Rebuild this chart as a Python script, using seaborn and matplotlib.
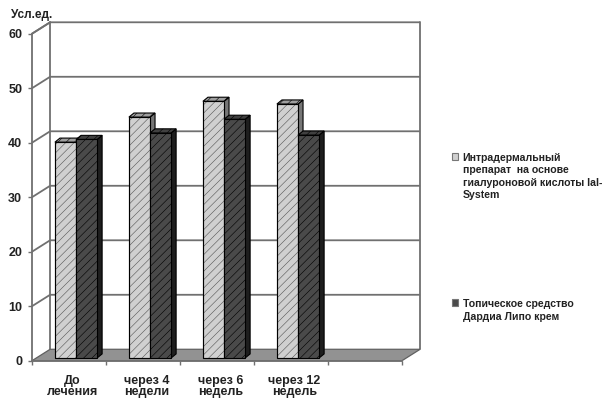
import matplotlib
matplotlib.use("Agg")
import matplotlib.pyplot as plt
from matplotlib.patches import Polygon, Rectangle
import pandas as pd
import seaborn as sns

# ---- data -------------------------------------------------------------
categories = ["До\nлечения", "через 4\nнедели", "через 6\nнедель", "через 12\nнедель"]
series_names = [
    "Интрадермальный\nпрепарат  на основе\nгиалуроновой кислоты Ial-\nSystem",
    "Топическое средство\nДардиа Липо крем",
]
intradermal = [39.6, 44.2, 47.1, 46.6]
topical = [40.1, 41.3, 43.8, 40.9]
y_ticks = [0, 10, 20, 30, 40, 50, 60]
y_label = "Усл.ед."

# ---- style ------------------------------------------------------------
sns.set_style("white")
plt.rcParams["font.family"] = ["Liberation Sans", "DejaVu Sans"]
plt.rcParams["font.weight"] = "bold"
plt.rcParams["hatch.linewidth"] = 0.4
TEXT = "#222222"
FRAME = "#707070"
LIGHT, DARK = "#d0d0d0", "#4a4a4a"
LIGHT_SIDE, DARK_SIDE = "#767676", "#1e1e1e"
LIGHT_TOP, DARK_TOP = "#9e9e9e", "#404040"

df = pd.DataFrame({
    "cat": categories * 2,
    "value": intradermal + topical,
    "series": [series_names[0]] * len(categories) + [series_names[1]] * len(categories),
})

W, H = 609, 398
fig = plt.figure(figsize=(W / 100, H / 100), dpi=100)
ax = fig.add_axes([0, 0, 1, 1])

sns.barplot(data=df, x="cat", y="value", hue="series", palette=[LIGHT, DARK],
            width=0.57, edgecolor="black", linewidth=0.8, hatch="////",
            legend=False, ax=ax)

# pseudo-3D geometry: bars sit on a middle plane, the axis on the front
# plane, gridlines on the back wall
FX, FY = -0.095, -0.5      # front plane offset
BX, BY = 0.15, 1.6         # back wall offset
DX, DY = 0.068, 0.75       # bar depth
n_slots = len(categories) + 1
L, R = -0.5, n_slots - 0.5
top = y_ticks[-1]

X0, XS, Y0, YS = 76, 74.0, 358, 5.45
ax.set_xlim((0 - X0) / XS, (W - X0) / XS)
ax.set_ylim((Y0 - H) / YS, Y0 / YS)

# back wall and side gridlines
for v in y_ticks[1:]:
    ax.plot([L + FX, L + BX, R + BX], [v + FY, v + BY, v + BY],
            color=FRAME, lw=1.3, zorder=1, solid_capstyle="butt")
ax.plot([L + BX, L + BX], [BY, top + BY], color=FRAME, lw=1.3, zorder=1)
ax.plot([R + BX, R + BX], [BY, top + BY], color=FRAME, lw=1.3, zorder=1)

# floor
ax.add_patch(Polygon([(L + FX, FY), (R + FX, FY), (R + BX, BY), (L + BX, BY)],
                     closed=True, facecolor="#929292", edgecolor="#606060",
                     lw=0.9, zorder=1.5))

# side and top faces of every bar, left to right
bars = sorted(ax.patches[:2 * len(categories)], key=lambda p: p.get_x())
for i, p in enumerate(bars):
    x0, w, h = p.get_x(), p.get_width(), p.get_height()
    light = p.get_facecolor()[0] > 0.5
    z = 3 + 0.1 * i
    side = Polygon([(x0 + w, 0), (x0 + w + DX, DY), (x0 + w + DX, h + DY), (x0 + w, h)],
                   closed=True, facecolor=LIGHT_SIDE if light else DARK_SIDE,
                   edgecolor="black", lw=0.8, zorder=z)
    cap = Polygon([(x0, h), (x0 + DX, h + DY), (x0 + w + DX, h + DY), (x0 + w, h)],
                  closed=True, facecolor=LIGHT_TOP if light else DARK_TOP,
                  edgecolor="black", lw=0.8, hatch="////", zorder=z)
    ax.add_patch(side)
    ax.add_patch(cap)
    p.set_zorder(z + 0.05)
    if light:
        p.set_edgecolor("#555555")
        ax.add_patch(Rectangle((x0, 0), w, h, facecolor="none", edgecolor="black",
                               lw=0.8, zorder=z + 0.06))

# front axis as spines
for s in ["top", "right"]:
    ax.spines[s].set_visible(False)
ax.spines["left"].set_position(("data", L + FX))
ax.spines["left"].set_bounds(FY, top + FY)
ax.spines["bottom"].set_position(("data", FY))
ax.spines["bottom"].set_bounds(L + FX, R + FX)
for s in ["left", "bottom"]:
    ax.spines[s].set_color(FRAME)
    ax.spines[s].set_linewidth(1.3)
    ax.spines[s].set_zorder(2)
ax.plot([L + FX, L + BX], [top + FY, top + BY], color=FRAME, lw=1.3, zorder=1)

ax.set_yticks([v + FY for v in y_ticks])
ax.set_yticklabels([str(v) for v in y_ticks], fontweight="bold")
ax.tick_params(axis="y", length=3, width=1, color=FRAME, pad=4,
               labelsize=9, labelcolor=TEXT, left=True)

ax.set_xticks([i - 0.05 for i in range(len(categories))])
ax.set_xticklabels(categories, linespacing=0.92, fontweight="bold")
ax.set_xticks([L + FX + k for k in range(n_slots + 1)], minor=True)
ax.tick_params(axis="x", which="major", length=0, pad=10, labelsize=9,
               labelcolor=TEXT)
ax.tick_params(axis="x", which="minor", length=3, width=1, color=FRAME, bottom=True)
ax.set_xlabel("")

ax.set_ylabel(y_label, rotation=0, fontsize=8.5, fontweight="bold", color=TEXT,
              ha="center", va="center")
ax.yaxis.set_label_coords(32 / W, 1 - 15 / H)

# legend
handles = [Rectangle((0, 0), 1, 1, facecolor=LIGHT, edgecolor="#777777", lw=0.8),
           Rectangle((0, 0), 1, 1, facecolor=DARK, edgecolor="#777777", lw=0.8)]
leg = fig.legend(handles, series_names, loc="upper left",
                 bbox_to_anchor=(452 / W, 1 - 153 / H), frameon=False,
                 prop={"weight": "bold", "size": 7.6}, handlelength=0.6,
                 handleheight=0.6, handletextpad=0.4, labelspacing=9.4,
                 borderaxespad=0, borderpad=0)
for t in leg.get_texts():
    t.set_color(TEXT)
    t.set_linespacing(1.3)
for col in leg._legend_handle_box.get_children():
    for item in col.get_children():
        item.align = "top"

fig.savefig("out.png", dpi=100)
